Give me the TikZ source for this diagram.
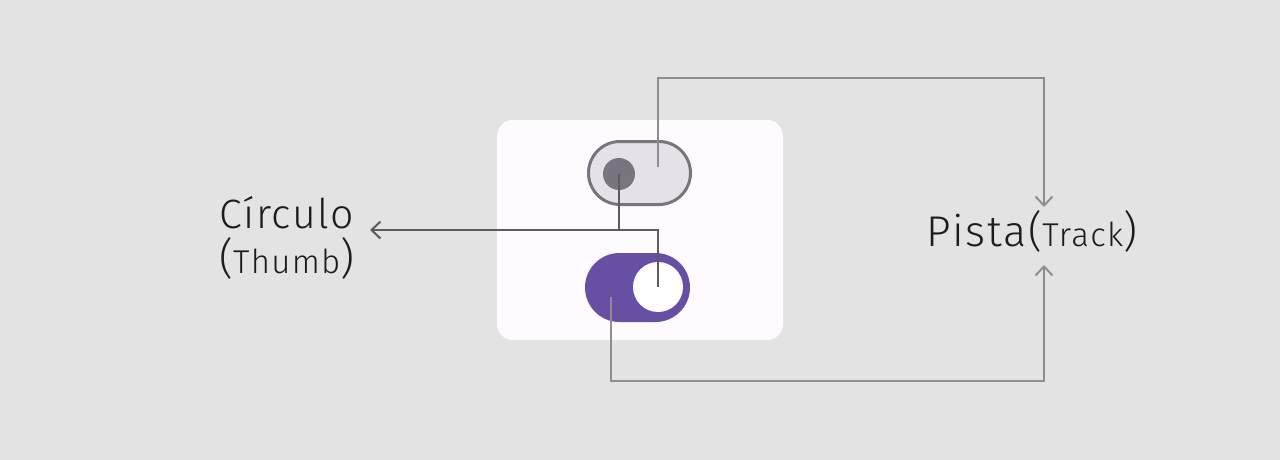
\documentclass[tikz,border=0pt]{standalone}
\usepackage{fontspec}
\setmainfont{Fira Sans Light}[LetterSpace=4]
\usetikzlibrary{arrows.meta,positioning}
\definecolor{bgcol}{HTML}{E3E3E3}
\definecolor{cardcol}{HTML}{FDFBFE}
\definecolor{offtrackcol}{HTML}{E6E0E9}
\definecolor{outlinecol}{HTML}{79747E}
\definecolor{ontrackcol}{HTML}{6750A4}
\definecolor{thumblinecol}{HTML}{5C5C5C}
\definecolor{tracklinecol}{HTML}{8E8E8E}
\definecolor{textcol}{HTML}{1D1B20}
\tikzset{
  pill/.style={inner sep=0pt, rounded corners=#1},
  knob/.style={circle, inner sep=0pt},
  leader/.style={line width=2pt, -{Straight Barb[length=9pt,width=17pt]}},
  label/.style={text=textcol, inner sep=0pt, align=left}
}
\newcommand{\bigtxt}{\fontsize{43}{44}\selectfont}
\newcommand{\smalltxt}{\fontsize{33}{34}\selectfont}
\begin{document}
\begin{tikzpicture}[x=1pt,y=-1pt]
\useasboundingbox (0,0) rectangle (1280,460);
\fill[bgcol] (0,0) rectangle (1280,460);

% card with the two switches
\node[fill=cardcol, rounded corners=16pt, minimum width=286pt, minimum height=220pt] (card) at (640,230) {};
\node[pill=31.5pt, draw=outlinecol, line width=3pt, fill=offtrackcol, minimum width=102pt, minimum height=63pt] (trackoff) at (639.5,173) {};
\node[knob, fill=outlinecol, minimum size=32pt] (thumboff) at (619,174) {};
\node[pill=34.5pt, fill=ontrackcol, minimum width=105pt, minimum height=69pt] (trackon) at (637.5,287.5) {};
\node[knob, fill=white, minimum size=50pt] (thumbon) at (658,287) {};

% labels
\node[label, anchor=base west] (thumbtext) at (219,228) {\fontsize{41}{44}\selectfont Círculo};
\node[label, anchor=base west] (thumbsub) at (219,273) {\bigtxt ({\smalltxt Thumb})};
\node[label, anchor=base west] (tracktext) at (926,246) {\bigtxt Pista({\smalltxt Track})};

% thumb leaders
\coordinate (thumbjoin) at (619,230);
\coordinate (thumbtip) at (370,230);
\draw[thumblinecol, line width=2pt] (thumboff.center) -- (thumbjoin) -| (thumbon.center);
\draw[leader, thumblinecol] (thumbjoin) -- (thumbtip);

% track leaders
\coordinate (trackoffpt) at (658,167);
\coordinate (trackonpt) at (611,297);
\coordinate (tracktipa) at (1044,207);
\coordinate (tracktipb) at (1044,265);
\draw[leader, tracklinecol] (trackoffpt) -- (658,78) -| (tracktipa);
\draw[leader, tracklinecol] (trackonpt) -- (611,381) -| (tracktipb);
\end{tikzpicture}
\end{document}
